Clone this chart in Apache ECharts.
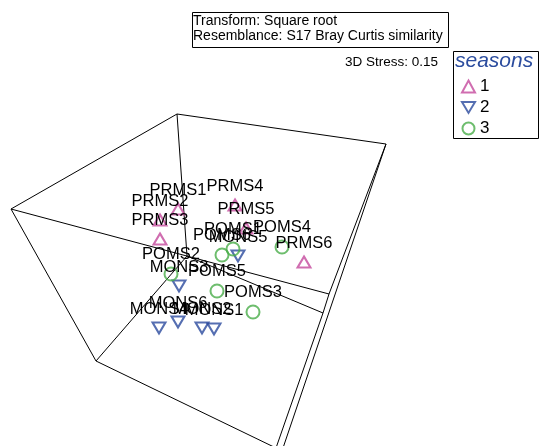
<!DOCTYPE html>
<html>
<head>
<meta charset="utf-8">
<script src="https://cdn.jsdelivr.net/npm/echarts@6/dist/echarts.min.js"></script>
<style>
  html, body { margin: 0; padding: 0; background: #fff; }
  #chart { width: 539px; height: 446px; }
</style>
</head>
<body>
<div id="chart"></div>
<script>
// 3D nMDS ordination, projected onto the view plane (screen units, y grows downward)
const seasonNames = ['1', '2', '3'];

const prmsLabels = ['PRMS1', 'PRMS2', 'PRMS3', 'PRMS4', 'PRMS5', 'PRMS6'];
const prmsX = [178, 160, 160, 235, 246, 304];
const prmsY = [209, 220, 239, 205, 228, 262];

const monsLabels = ['MONS1', 'MONS2', 'MONS3', 'MONS4', 'MONS5', 'MONS6'];
const monsX = [214, 202, 179, 159, 238, 178];
const monsY = [329, 328, 286, 328, 256, 322];

const pomsLabels = ['POMS1', 'POMS2', 'POMS3', 'POMS4', 'POMS5', 'POMS6'];
const pomsX = [233, 171, 253, 282, 217, 222];
const pomsY = [249, 274, 312, 247, 291, 255];

// projected corners of the ordination cube and its edges
const cubeCorners = {
  A: [177, 114], E: [386, 144], B: [11, 209], C: [96, 361],
  F: [187, 256], H: [329, 294], G: [323, 313], D: [276, 448], D2: [283, 448]
};
const cubeEdges = [
  ['A', 'E'], ['A', 'B'], ['A', 'F'], ['B', 'C'], ['B', 'H'], ['C', 'D'],
  ['C', 'F'], ['F', 'G'], ['E', 'H'], ['H', 'G'], ['G', 'D'], ['E', 'D2']
];

const stressText = '3D Stress: 0.15';
const infoLines = ['Transform: Square root', 'Resemblance: S17 Bray Curtis similarity'];

const colors = ['#c4489c', '#2b4a9e', '#48ad48'];
const downTriangle = 'path://M0,0 L12,0 L6,10 Z';
const FONT = '"Liberation Sans", Arial, sans-serif';

function points(labels, xs, ys) {
  return labels.map((n, i) => ({ name: n, value: [xs[i], ys[i]] }));
}

function seasonSeries(name, data, symbol, size, color) {
  return {
    name: name,
    type: 'scatter',
    data: data,
    symbol: symbol,
    symbolSize: size,
    itemStyle: { color: 'rgba(0,0,0,0)', borderColor: color, borderWidth: 2 },
    label: {
      show: true,
      formatter: '{b}',
      position: 'top',
      distance: 4,
      color: '#000',
      opacity: 1,
      textBorderWidth: 0,
      fontFamily: FONT,
      fontSize: 16.5
    },
    emphasis: { disabled: true },
    z: 3
  };
}

const chart = echarts.init(document.getElementById('chart'), null, { renderer: 'canvas' });

chart.setOption({
  animation: false,
  backgroundColor: '#fff',
  grid: { left: 0, right: 0, top: 0, bottom: 0 },
  xAxis: { type: 'value', min: 0, max: 539, show: false },
  yAxis: { type: 'value', min: 0, max: 446, inverse: true, show: false },
  legend: {
    data: seasonNames,
    orient: 'vertical',
    left: 459,
    top: 76,
    padding: 2,
    itemWidth: 13,
    itemHeight: 12,
    itemGap: 4,
    selectedMode: false,
    textStyle: { fontSize: 17, color: '#000', fontFamily: FONT }
  },
  graphic: [
    {
      type: 'rect', left: 192, top: 12,
      shape: { width: 256, height: 35 },
      style: { fill: '#fff', stroke: '#000', lineWidth: 1 }
    },
    {
      type: 'text', left: 193, top: 14,
      style: {
        text: infoLines.join('\n'), fill: '#000', lineHeight: 14.5,
        font: '14px ' + FONT
      }
    },
    {
      type: 'text', left: 345, top: 55,
      style: { text: stressText, fill: '#000', font: '13.5px ' + FONT }
    },
    {
      type: 'rect', left: 453, top: 51,
      shape: { width: 85, height: 87 },
      style: { fill: 'rgba(0,0,0,0)', stroke: '#000', lineWidth: 1 }
    },
    {
      type: 'text', left: 455, top: 51,
      style: {
        text: 'seasons', fill: '#2b4c9e',
        font: 'italic 21px ' + FONT
      }
    }
  ],
  series: [
    {
      type: 'lines',
      coordinateSystem: 'cartesian2d',
      silent: true,
      lineStyle: { color: '#000', width: 1, opacity: 1 },
      data: cubeEdges.map(e => ({ coords: [cubeCorners[e[0]], cubeCorners[e[1]]] })),
      z: 1
    },
    seasonSeries(seasonNames[0], points(prmsLabels, prmsX, prmsY), 'triangle', [13, 11], colors[0]),
    seasonSeries(seasonNames[1], points(monsLabels, monsX, monsY), downTriangle, [13, 11], colors[1]),
    seasonSeries(seasonNames[2], points(pomsLabels, pomsX, pomsY), 'circle', 13, colors[2])
  ]
});
</script>
</body>
</html>
